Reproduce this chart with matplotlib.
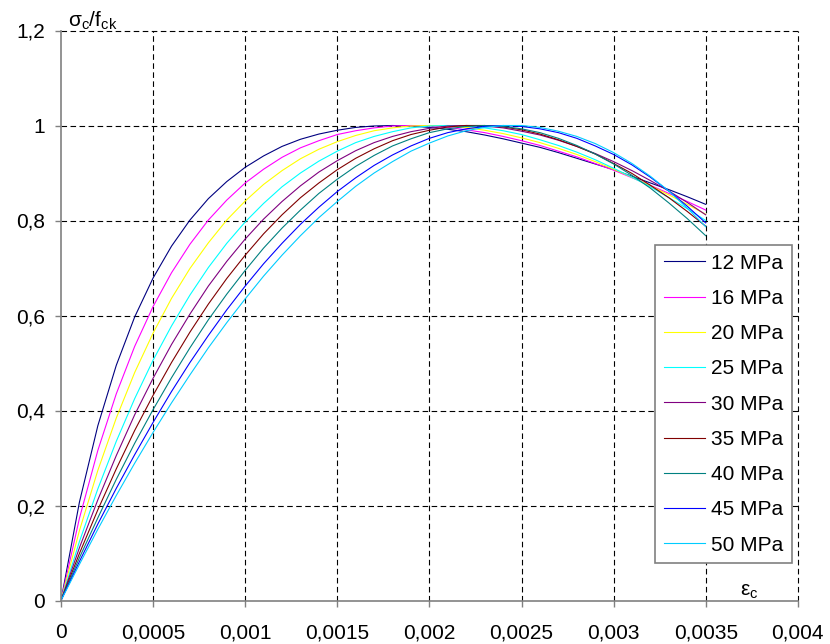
import matplotlib
matplotlib.use("Agg")
import matplotlib.pyplot as plt

plt.rcParams['font.family'] = ['Liberation Sans', 'DejaVu Sans']
plt.rcParams['mathtext.fontset'] = 'custom'
plt.rcParams['mathtext.rm'] = 'Liberation Sans'
plt.rcParams['mathtext.it'] = 'Liberation Sans'
plt.rcParams['mathtext.default'] = 'regular'
plt.rcParams['lines.scale_dashes'] = False

# ---- data ----
strain = [0, 0.0001, 0.0002, 0.0003, 0.0004, 0.0005, 0.0006, 0.0007, 0.0008, 0.0009,
          0.0010, 0.0011, 0.0012, 0.0013, 0.0014, 0.0015, 0.0016, 0.0017, 0.0018, 0.0019,
          0.0020, 0.0021, 0.0022, 0.0023, 0.0024, 0.0025, 0.0026, 0.0027, 0.0028, 0.0029,
          0.0030, 0.0031, 0.0032, 0.0033, 0.0034, 0.0035]

s12 = [0, 0.207, 0.368, 0.495, 0.597, 0.679, 0.746, 0.801, 0.846, 0.882, 0.912, 0.936,
       0.956, 0.971, 0.982, 0.990, 0.996, 0.999, 1.000, 0.999, 0.996, 0.992, 0.987, 0.980,
       0.972, 0.963, 0.954, 0.943, 0.931, 0.919, 0.907, 0.893, 0.879, 0.865, 0.850, 0.834]
s16 = [0, 0.173, 0.316, 0.435, 0.535, 0.619, 0.690, 0.750, 0.801, 0.843, 0.879, 0.908,
       0.933, 0.953, 0.968, 0.981, 0.989, 0.995, 0.999, 1.000, 0.999, 0.996, 0.991, 0.985,
       0.977, 0.968, 0.958, 0.946, 0.934, 0.920, 0.906, 0.890, 0.874, 0.857, 0.840, 0.822]
s20 = [0, 0.147, 0.274, 0.384, 0.480, 0.563, 0.636, 0.699, 0.753, 0.801, 0.841, 0.876,
       0.905, 0.930, 0.950, 0.966, 0.979, 0.989, 0.995, 0.999, 1.000, 0.999, 0.996, 0.990,
       0.983, 0.974, 0.964, 0.952, 0.939, 0.924, 0.908, 0.891, 0.873, 0.854, 0.834, 0.813]
s25 = [0, 0.124, 0.235, 0.335, 0.425, 0.506, 0.578, 0.643, 0.701, 0.752, 0.797, 0.836,
       0.871, 0.900, 0.925, 0.946, 0.964, 0.977, 0.987, 0.995, 0.999, 1.000, 0.999, 0.995,
       0.989, 0.981, 0.970, 0.958, 0.944, 0.928, 0.910, 0.891, 0.871, 0.848, 0.825, 0.800]
s30 = [0, 0.111, 0.212, 0.305, 0.391, 0.468, 0.539, 0.603, 0.662, 0.714, 0.761, 0.803,
       0.840, 0.873, 0.902, 0.926, 0.947, 0.964, 0.977, 0.987, 0.994, 0.999, 1.000, 0.999,
       0.995, 0.988, 0.980, 0.969, 0.956, 0.941, 0.924, 0.905, 0.884, 0.862, 0.838, 0.812]
s35 = [0, 0.099, 0.191, 0.277, 0.358, 0.432, 0.501, 0.565, 0.624, 0.678, 0.727, 0.772,
       0.812, 0.848, 0.879, 0.907, 0.931, 0.951, 0.968, 0.981, 0.990, 0.997, 1.000, 1.000,
       0.997, 0.991, 0.982, 0.970, 0.956, 0.940, 0.920, 0.899, 0.874, 0.848, 0.819, 0.788]
s40 = [0, 0.090, 0.174, 0.255, 0.331, 0.402, 0.469, 0.532, 0.591, 0.645, 0.695, 0.742,
       0.784, 0.822, 0.857, 0.887, 0.914, 0.937, 0.957, 0.972, 0.985, 0.993, 0.998, 1.000,
       0.998, 0.993, 0.985, 0.973, 0.958, 0.940, 0.919, 0.895, 0.868, 0.837, 0.804, 0.768]
s45 = [0, 0.082, 0.161, 0.236, 0.307, 0.375, 0.440, 0.501, 0.558, 0.612, 0.662, 0.709,
       0.752, 0.792, 0.828, 0.861, 0.890, 0.916, 0.938, 0.957, 0.973, 0.985, 0.993, 0.998,
       1.000, 0.998, 0.993, 0.985, 0.973, 0.957, 0.939, 0.917, 0.891, 0.862, 0.830, 0.795]
s50 = [0, 0.076, 0.150, 0.221, 0.289, 0.354, 0.416, 0.475, 0.532, 0.585, 0.635, 0.683,
       0.727, 0.768, 0.806, 0.840, 0.872, 0.900, 0.924, 0.946, 0.963, 0.978, 0.989, 0.996,
       1.000, 1.000, 0.996, 0.988, 0.977, 0.962, 0.943, 0.920, 0.893, 0.862, 0.826, 0.787]

labels = ["12 MPa", "16 MPa", "20 MPa", "25 MPa", "30 MPa",
          "35 MPa", "40 MPa", "45 MPa", "50 MPa"]
series = [s12, s16, s20, s25, s30, s35, s40, s45, s50]
colors = ["#000080", "#FF00FF", "#FFFF00", "#00FFFF", "#800080",
          "#800000", "#008080", "#0000FF", "#00CCFF"]

x_ticks = [0, 0.0005, 0.001, 0.0015, 0.002, 0.0025, 0.003, 0.0035, 0.004]
x_ticklabels = ["0", "0,0005", "0,001", "0,0015", "0,002", "0,0025", "0,003", "0,0035", "0,004"]
y_ticks = [0, 0.2, 0.4, 0.6, 0.8, 1.0, 1.2]
y_ticklabels = ["0", "0,2", "0,4", "0,6", "0,8", "1", "1,2"]

# ---- figure ----
W, H = 830, 644
fig = plt.figure(figsize=(W / 100, H / 100), dpi=100)
ax = fig.add_axes([61 / W, 43.5 / H, 736.8 / W, 570 / H])

ax.set_xlim(0, 0.004)
ax.set_ylim(0, 1.2)

grid_kw = dict(color="black", linewidth=0.8, linestyle=(0, (4.0, 2.5)), zorder=1)
for xv in x_ticks[1:]:
    ax.axvline(xv, clip_on=False, **grid_kw)
for yv in y_ticks[1:]:
    ax.axhline(yv, clip_on=False, **grid_kw)

for ys, lab, col in zip(series, labels, colors):
    ax.plot(strain, ys, color=col, linewidth=0.8, label=lab, zorder=3)

for side in ("top", "right"):
    ax.spines[side].set_visible(False)
for side in ("left", "bottom"):
    ax.spines[side].set_color("#808080")
    ax.spines[side].set_linewidth(1.2)
    ax.spines[side].set_zorder(4)

ax.set_xticks(x_ticks)
ax.set_xticklabels(x_ticklabels)
ax.set_yticks(y_ticks)
ax.set_yticklabels(y_ticklabels)
ax.tick_params(axis="both", direction="out", length=4.5, width=1.0, color="#808080",
               labelsize=15, labelcolor="black")
ax.tick_params(axis="x", pad=12)
ax.tick_params(axis="y", pad=7)

fig.text(68 / W, 1 - 27 / H, r"$σ_c/f_{ck}$", fontsize=15, ha="left", va="baseline")
ax.text(740 / W, 1 - 596 / H, r"$ε_c$", fontsize=15, ha="left", va="baseline",
        transform=fig.transFigure)

leg = ax.legend(loc="upper right", bbox_to_anchor=(0.992, 0.6237), fontsize=15,
                frameon=True, fancybox=False, framealpha=1, edgecolor="#808080",
                handlelength=1.97, handletextpad=0.29, labelspacing=0.78,
                borderpad=0.42, borderaxespad=0)
leg.get_frame().set_linewidth(1.2)
leg.set_zorder(5)

fig.savefig("out.png", dpi=100)
